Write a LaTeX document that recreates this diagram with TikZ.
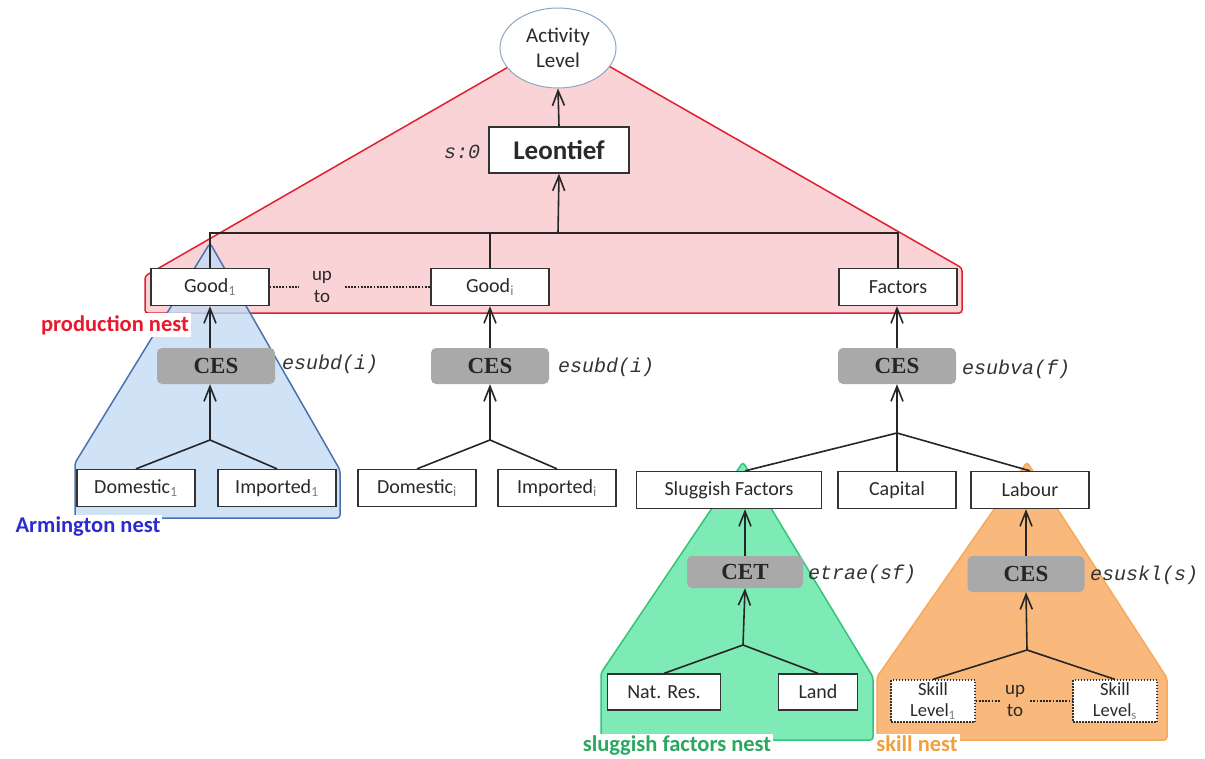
\documentclass[tikz,border=0pt]{standalone}
\usepackage{fontspec}
\setmainfont{Carlito}
\newfontfamily\serifbold{Liberation Serif}
\newfontfamily\monoital{Liberation Mono}
\usetikzlibrary{arrows.meta,shapes.geometric}

\definecolor{pinkfill}{HTML}{FAD3D6}
\definecolor{redline}{HTML}{E0202E}
\definecolor{bluefill}{HTML}{C4DBF3}
\definecolor{blueline}{HTML}{4A72B0}
\definecolor{greenfill}{HTML}{7EEAB6}
\definecolor{greenline}{HTML}{33C47A}
\definecolor{orangefill}{HTML}{F9B97C}
\definecolor{orangeline}{HTML}{F5A95A}
\definecolor{cesgray}{HTML}{A9A9A9}
\definecolor{boxline}{HTML}{333333}
\definecolor{txt}{HTML}{2A2A2A}
\definecolor{ellline}{HTML}{8EA6C4}
\definecolor{prodred}{HTML}{E8192C}
\definecolor{armblue}{HTML}{2B2BD0}
\definecolor{sfgreen}{HTML}{2AA860}
\definecolor{skorange}{HTML}{F0A040}

\newcommand{\lidx}[1]{{\color{gray}\textsubscript{#1}}}

\tikzset{
  box/.style={draw=boxline, line width=1.3pt, fill=white, minimum width=118pt,
    minimum height=37pt, inner sep=0pt, text=txt, font=\fontsize{20}{22}\selectfont},
  skillbox/.style={box, dash pattern=on 1.5pt off 1.5pt, minimum width=84pt,
    minimum height=42pt, align=center, font=\fontsize{18.5}{21}\selectfont},
  cesbox/.style={fill=cesgray, rounded corners=5pt, minimum width=118pt,
    minimum height=36pt, inner sep=0pt, text=black!85,
    font=\serifbold\bfseries\fontsize{23}{25}\selectfont},
  elas/.style={anchor=west, inner sep=0pt, text=black!80,
    font=\monoital\itshape\fontsize{20}{22}\selectfont},
  upto/.style={inner sep=0pt, align=center, text=txt, font=\fontsize{19}{22}\selectfont},
  conn/.style={line width=1.6pt, draw=black!85},
  arr/.style={conn, -{Straight Barb[length=15pt,width=12pt]}},
  dotline/.style={line width=1.8pt, draw=black!85, dash pattern=on 1.8pt off 1.4pt},
  nestlabel/.style={fill=white, inner sep=2pt, font=\bfseries\fontsize{22.5}{24}\selectfont},
  nest/.style={line width=1.5pt, rounded corners=3pt}
}

\begin{document}
\begin{tikzpicture}[x=1pt,y=-1pt]
\useasboundingbox (0,0) rectangle (1205,758);

% nest regions
\fill[pinkfill] (510,66) -- (145,276) -- (145,313) -- (962,313) -- (962,268) -- (607,65) -- cycle;
\draw[nest, redline] (510,66) -- (145,276) -- (145,313) -- (962,313) -- (962,268) -- (607,65);
\draw[nest, blueline, fill=bluefill, fill opacity=0.8] (210,243) -- (75,463) -- (75,518) -- (340,518) -- (340,470) -- cycle;
\draw[nest, greenline, fill=greenfill] (743,462) -- (601,673) -- (601,740) -- (873,740) -- (873,677) -- cycle;
\draw[nest, orangeline, fill=orangefill] (1027,462) -- (877,677) -- (877,740) -- (1167,740) -- (1167,678) -- cycle;

% nest names
\node[nestlabel, text=prodred] (lprod) at (115,325) {production nest};
\node[nestlabel, text=armblue] (larm) at (88,527) {Armington nest};
\node[nestlabel, text=sfgreen] (lsf) at (677,746) {sluggish factors nest};
\node[nestlabel, text=skorange] (lsk) at (917,744) {skill nest};

% top level
\node[ellipse, draw=ellline, line width=1pt, fill=white, minimum width=116pt,
  minimum height=80pt, inner sep=0pt, align=center, text=txt,
  font=\fontsize{21}{25}\selectfont] (act) at (558,48) {Activity\\Level};
\node[box, minimum width=140pt, minimum height=46pt,
  font=\bfseries\fontsize{27}{29}\selectfont] (leo) at (559,150) {Leontief};
\node[elas, anchor=center] (s0) at (462,152) {s:0};

% goods and factors
\node[box] (g1) at (210,287) {Good\lidx{1}};
\node[box] (gi) at (490,287) {Good\lidx{i}};
\node[box] (fac) at (898,287) {Factors};
\node[upto, minimum width=45pt] (upa) at (322,287) {up\\to};

% CES nests
\node[cesbox] (ces1) at (216,366) {CES};
\node[cesbox] (ces2) at (490,366) {CES};
\node[cesbox] (ces3) at (897,366) {CES};
\node[elas] (e1) at (282,364) {esubd(i)};
\node[elas] (e2) at (558,367) {esubd(i)};
\node[elas] (e3) at (962,369) {esubva(f)};

% Armington inputs
\node[box] (dom1) at (136,488) {Domestic\lidx{1}};
\node[box] (imp1) at (277,488) {Imported\lidx{1}};
\node[box] (domi) at (417,488) {Domestic\lidx{i}};
\node[box] (impi) at (557,488) {Imported\lidx{i}};

% factor inputs
\node[box, minimum width=185pt] (sf) at (729,490) {Sluggish Factors};
\node[box] (cap) at (897,490) {Capital};
\node[box] (lab) at (1030,490) {Labour};

% sluggish factors nest
\node[cesbox, minimum width=116pt, minimum height=32pt] (cet) at (745,572) {CET};
\node[elas] (e4) at (808,574) {etrae(sf)};
\node[box, minimum width=113pt, minimum height=36pt] (nat) at (664,692) {Nat. Res.};
\node[box, minimum width=79pt, minimum height=36pt] (land) at (818,692) {Land};

% skill nest
\node[cesbox, minimum width=117pt] (ces4) at (1026,574) {CES};
\node[elas] (e5) at (1090,575) {esuskl(s)};
\node[skillbox] (sk1) at (933,701) {Skill\\Level\lidx{1}};
\node[skillbox] (sks) at (1115,701) {Skill\\Level\lidx{s}};
\node[upto, minimum width=30pt] (upb) at (1015,701) {up\\to};

% junction points
\coordinate (bar) at (558,233);
\coordinate (j1) at (210,440);
\coordinate (j2) at (490,440);
\coordinate (j3) at (897,433);
\coordinate (j4) at (743,645);
\coordinate (j5) at (1027,650);

% connectors
\draw[arr] (leo.north) -- (act.south);
\draw[arr] (bar) -- (leo.south);
\draw[conn] (g1.north) |- (bar) -| (fac.north);
\draw[conn] (gi.north) -- (gi.north |- bar);
\draw[dotline] (g1.east) -- (upa.west);
\draw[dotline] (upa.east) -- (gi.west);

\draw[arr] (ces1.north -| g1.south) -- (g1.south);
\draw[arr] (j1) -- (j1 |- ces1.south);
\draw[conn] (dom1.north) -- (j1) -- (imp1.north);

\draw[arr] (ces2.north) -- (gi.south);
\draw[arr] (j2) -- (ces2.south);
\draw[conn] (domi.north) -- (j2) -- (impi.north);

\draw[arr] (ces3.north) -- (ces3.north |- fac.south);
\draw[arr] (j3) -- (ces3.south);
\draw[conn] (sf.north -| cet.north) -- (j3) -- (lab.north);
\draw[conn] (j3) -- (cap.north);

\draw[arr] (cet.north) -- (cet.north |- sf.south);
\draw[arr] (j4) -- (cet.south);
\draw[conn] (nat.north) -- (j4) -- (land.north);

\draw[arr] (ces4.north) -- (ces4.north |- lab.south);
\draw[arr] (j5) -- (ces4.south);
\draw[conn] (sk1.north) -- (j5) -- (sks.north);
\draw[dotline] (sk1.east) -- (upb.west);
\draw[dotline] (upb.east) -- (sks.west);
\end{tikzpicture}
\end{document}
